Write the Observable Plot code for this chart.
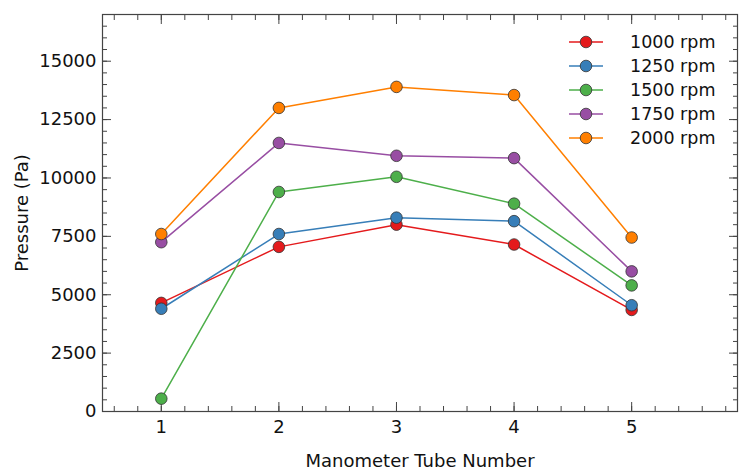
<!DOCTYPE html>
<html><head><meta charset="utf-8">
<script src="https://cdn.jsdelivr.net/npm/d3@7"></script>
<script src="https://cdn.jsdelivr.net/npm/@observablehq/plot@0.6"></script>
<style>
body{margin:0;background:#fff;}
#wrap{position:relative;width:745px;height:469px;font-family:"DejaVu Sans",sans-serif;}
#legend{position:absolute;left:568px;top:30px;}
.row{display:flex;align-items:center;height:24px;font-size:17.5px;color:#111;}
.row svg{margin-right:26px;}
</style></head><body><div id="wrap"><div id="legend"></div></div>
<script>
const tubes = [1, 2, 3, 4, 5];
const series = ["1000 rpm", "1250 rpm", "1500 rpm", "1750 rpm", "2000 rpm"];
const colors = ["#e41a1c", "#377eb8", "#4daf4a", "#984ea3", "#ff7f00"];
const p1000 = [4650, 7050, 8000, 7150, 4350];
const p1250 = [4400, 7600, 8300, 8150, 4550];
const p1500 = [550, 9400, 10050, 8900, 5400];
const p1750 = [7250, 11500, 10950, 10850, 6000];
const p2000 = [7600, 13000, 13900, 13550, 7450];
const yMajorTicks = [0, 2500, 5000, 7500, 10000, 12500, 15000];
const xLabel = "Manometer Tube Number";
const yLabel = "Pressure (Pa)";

const allValues = [p1000, p1250, p1500, p1750, p2000];
const data = [];
series.forEach((s, i) => tubes.forEach((t, j) => data.push({series: s, tube: t, value: allValues[i][j]})));

const yMinor = d3.range(0, 17001, 500);
const xMinor = d3.range(0.6, 5.9, 0.2).map(v => +v.toFixed(1));
const blank = () => "";
const axisCol = "#444";

const chart = Plot.plot({
  width: 745, height: 469,
  marginLeft: 102, marginRight: 8, marginTop: 14, marginBottom: 58,
  style: {fontFamily: "DejaVu Sans, sans-serif", background: "#fff"},
  x: {domain: [0.5, 5.9]},
  y: {domain: [0, 17000]},
  color: {domain: series, range: colors},
  marks: [
    Plot.frame({stroke: axisCol, strokeWidth: 1.2}),
    // inward ticks, all four sides
    Plot.axisY({anchor: "left", ticks: yMinor, tickSize: -5, tickFormat: blank, label: null, stroke: axisCol}),
    Plot.axisY({anchor: "right", ticks: yMinor, tickSize: -5, tickFormat: blank, label: null, stroke: axisCol}),
    Plot.axisY({anchor: "left", ticks: yMajorTicks, tickSize: -9, tickFormat: blank, label: null, stroke: axisCol}),
    Plot.axisY({anchor: "right", ticks: yMajorTicks, tickSize: -9, tickFormat: blank, label: null, stroke: axisCol}),
    Plot.axisX({anchor: "bottom", ticks: xMinor, tickSize: -5, tickFormat: blank, label: null, stroke: axisCol}),
    Plot.axisX({anchor: "top", ticks: xMinor, tickSize: -5, tickFormat: blank, label: null, stroke: axisCol}),
    Plot.axisX({anchor: "bottom", ticks: tubes, tickSize: -9, tickFormat: blank, label: null, stroke: axisCol}),
    Plot.axisX({anchor: "top", ticks: tubes, tickSize: -9, tickFormat: blank, label: null, stroke: axisCol}),
    // tick labels
    Plot.axisY({anchor: "left", ticks: yMajorTicks, tickSize: 0, tickPadding: 6, fontSize: 18, fill: "#111",
      tickFormat: d3.format("d"), label: null}),
    Plot.axisX({anchor: "bottom", ticks: tubes, tickSize: 0, tickPadding: 9, fontSize: 18, fill: "#111",
      tickFormat: d3.format("d"), label: null}),
    // axis titles
    Plot.axisY({anchor: "left", ticks: [], fontSize: 18, fill: "#111",
      label: yLabel, labelAnchor: "center", labelArrow: "none", labelOffset: 87}),
    Plot.axisX({anchor: "bottom", ticks: [], fontSize: 18, fill: "#111",
      label: xLabel, labelAnchor: "center", labelArrow: "none", labelOffset: 55}),
    Plot.line(data, {x: "tube", y: "value", z: "series", stroke: "series", strokeWidth: 1.5}),
    Plot.dot(data, {x: "tube", y: "value", fill: "series", r: 5.8, stroke: "#333", strokeWidth: 0.8})
  ]
});
document.getElementById("wrap").prepend(chart);

const legend = document.getElementById("legend");
series.forEach((s, i) => {
  const row = document.createElement("div");
  row.className = "row";
  row.innerHTML = `<svg width="36" height="14"><line x1="1" x2="35" y1="7" y2="7" stroke="${colors[i]}" stroke-width="1.5"/><circle cx="18" cy="7" r="5.8" fill="${colors[i]}" stroke="#333" stroke-width="0.8"/></svg><span>${s}</span>`;
  legend.appendChild(row);
});
</script></body></html>
